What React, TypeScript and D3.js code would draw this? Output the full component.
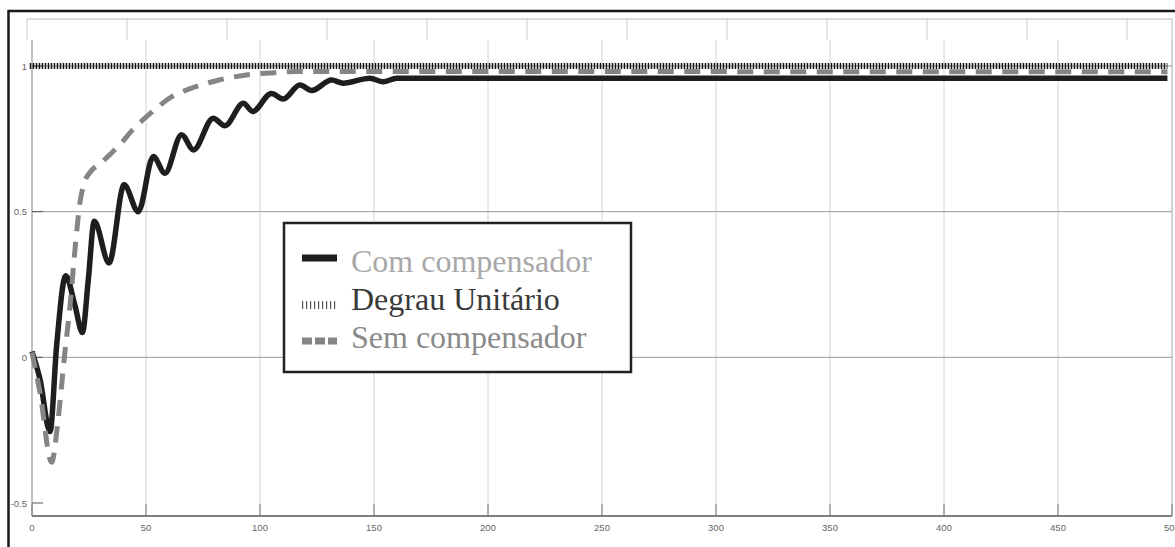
import React from "react";
import * as d3 from "d3";

const xTicks = [0, 50, 100, 150, 200, 250, 300, 350, 400, 450, 500];
const yTicks = [-0.5, 0, 0.5, 1];
const yTickLabels = ["-0.5", "0", "0.5", "1"];

const comT = [0, 3.5, 7.9, 10.8, 14.8, 18.9, 22.1, 24.7, 27.3, 33.8, 40.4, 46.6, 53.2, 58.3, 65.6, 70.8, 79.5, 84.6, 92.7, 96.8, 105, 110.2, 117.5, 122.7, 131.4, 136.5, 148.2, 154, 160, 498];
const comV = [0.02, -0.075, -0.255, 0.04, 0.28, 0.176, 0.085, 0.267, 0.467, 0.324, 0.592, 0.5, 0.689, 0.632, 0.764, 0.712, 0.821, 0.795, 0.872, 0.844, 0.906, 0.887, 0.935, 0.916, 0.952, 0.941, 0.958, 0.946, 0.958, 0.958];

const semT = [0, 3.5, 8.6, 11.5, 14.2, 16.7, 19.2, 21, 23, 26, 30, 34, 38, 44, 52, 61, 71, 82, 94, 106, 116, 498];
const semV = [0.017, -0.12, -0.36, -0.21, 0.0, 0.18, 0.4, 0.53, 0.6, 0.64, 0.665, 0.695, 0.725, 0.78, 0.838, 0.893, 0.927, 0.952, 0.969, 0.977, 0.981, 0.98];

const stepT = [-1, 498];
const stepV = [1, 1];

const legendLabels = ["Com compensador", "Degrau Unitário", "Sem compensador"];

export default function App() {
  const W = 1175, H = 547;
  const x = d3.scaleLinear().domain([0, 500]).range([32, 1172]);
  const y = d3.scaleLinear().domain([-0.5, 1]).range([503, 66]);
  const plotTop = 19, gridTop = 40, plotBottom = 516;

  const line = d3.line<[number, number]>().x(d => x(d[0])).y(d => y(d[1])).curve(d3.curveMonotoneX);
  const com = line(comT.map((t, i) => [t, comV[i]] as [number, number])) || "";
  const sem = line(semT.map((t, i) => [t, semV[i]] as [number, number])) || "";
  const step = d3.line<[number, number]>().x(d => x(d[0])).y(d => y(d[1]))(stepT.map((t, i) => [t, stepV[i]] as [number, number])) || "";

  const topStrip = d3.range(27, 1130, 100);
  const legendX = 284, legendY = 223, legendW = 347, legendH = 149;
  const rowBase = [272, 310, 348];
  const rowMid = [258, 305, 341];
  const textColors = ["#a8a8a8", "#3a3a3a", "#8a8a8a"];

  return (
    <div style={{ position: "absolute", left: 0, top: 0, width: W, height: H, overflow: "hidden", background: "#fff" }}>
      <svg width={W} height={H} style={{ display: "block" }}>
        <rect x={0} y={0} width={W} height={H} fill="#fff" />
        {/* top strip (misaligned grid) */}
        <line x1={27} x2={1172} y1={plotTop} y2={plotTop} stroke="#bbb" strokeWidth={1} />
        {topStrip.map(v => (
          <line key={"ts" + v} x1={v} x2={v} y1={plotTop} y2={gridTop} stroke="#c8c8c8" strokeWidth={1} />
        ))}
        {/* vertical grid */}
        {xTicks.map(t => (
          <line key={"vg" + t} x1={x(t)} x2={x(t)} y1={gridTop} y2={plotBottom} stroke="#d2d2d2" strokeWidth={1} />
        ))}
        <line x1={1172} x2={1172} y1={plotTop} y2={plotBottom} stroke="#bbb" strokeWidth={1} />
        {/* horizontal grid */}
        {[0, 0.5, 1].map(v => (
          <line key={"hg" + v} x1={x(0)} x2={1172} y1={y(v)} y2={y(v)} stroke="#9a9a9a" strokeWidth={1} />
        ))}
        {/* axes */}
        <line x1={x(0)} x2={x(0)} y1={gridTop} y2={plotBottom} stroke="#999" strokeWidth={1} />
        <line x1={x(0)} x2={1172} y1={plotBottom} y2={plotBottom} stroke="#555" strokeWidth={1.5} />
        {xTicks.map(t => (
          <g key={"xt" + t}>
            <line x1={x(t)} x2={x(t)} y1={plotBottom} y2={plotBottom - 12} stroke="#777" strokeWidth={1} />
            <text x={x(t)} y={531} textAnchor="middle" fontFamily="Liberation Sans, Arial, sans-serif" fontSize={9.5} fill="#666">{t}</text>
          </g>
        ))}
        {yTicks.map((v, i) => (
          <g key={"yt" + v}>
            <line x1={x(0)} x2={x(0) + 11} y1={y(v)} y2={y(v)} stroke="#555" strokeWidth={1} />
            <text x={27} y={y(v) + 3.5} textAnchor="end" fontFamily="Liberation Sans, Arial, sans-serif" fontSize={9.5} fill="#666">{yTickLabels[i]}</text>
          </g>
        ))}
        {/* curves */}
        <path d={com} fill="none" stroke="#1e1e1e" strokeWidth={5.5} strokeLinejoin="round" />
        <path d={sem} fill="none" stroke="#858585" strokeWidth={5} strokeDasharray="16,10.5" />
        <path d={step} fill="none" stroke="#111" strokeWidth={6} strokeDasharray="1.5,1.5" />
        {/* legend */}
        <rect x={legendX} y={legendY} width={legendW} height={legendH} fill="#fff" stroke="#222" strokeWidth={2.5} />
        <line x1={302} x2={337} y1={rowMid[0]} y2={rowMid[0]} stroke="#1e1e1e" strokeWidth={7} />
        <line x1={302} x2={337} y1={rowMid[1]} y2={rowMid[1]} stroke="#555" strokeWidth={8} strokeDasharray="1.2,2.8" />
        <line x1={302} x2={337} y1={rowMid[2]} y2={rowMid[2]} stroke="#858585" strokeWidth={7} strokeDasharray="10,3" />
        {legendLabels.map((l, i) => (
          <text key={l} x={351} y={rowBase[i]} fontFamily="Liberation Serif, Times New Roman, serif" fontSize={32} fill={textColors[i]}>{l}</text>
        ))}
        {/* outer frame */}
        <path d={`M8.5,${H + 2} V11 H${W + 2}`} fill="none" stroke="#1a1a1a" strokeWidth={2.5} />
      </svg>
    </div>
  );
}
